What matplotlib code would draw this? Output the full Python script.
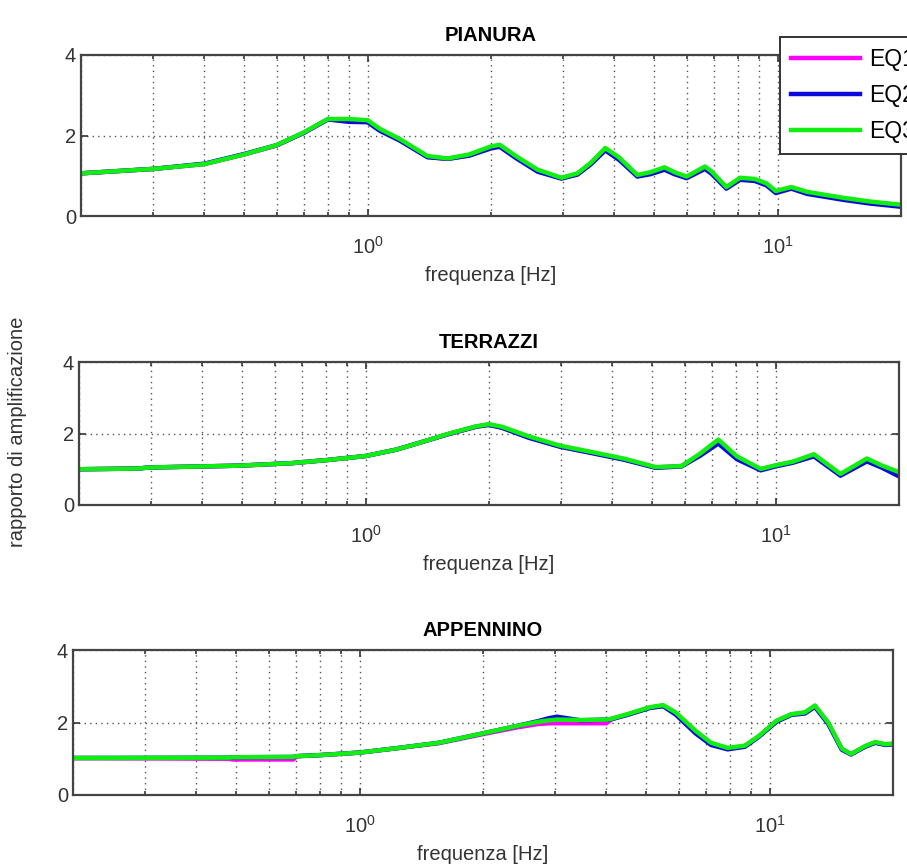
import numpy as np
import matplotlib
matplotlib.use('Agg')
import matplotlib.pyplot as plt
import matplotlib.ticker as tick

plt.rcParams['font.family'] = ['Liberation Sans', 'DejaVu Sans']
plt.rcParams['mathtext.fontset'] = 'custom'
plt.rcParams['mathtext.rm'] = 'Liberation Sans'

# PIANURA
f_pia = [0.2, 0.3, 0.4, 0.5, 0.6, 0.7, 0.8, 0.9, 1.0, 1.07, 1.2, 1.4, 1.57, 1.77, 2.0, 2.1,
         2.3, 2.6, 2.97, 3.25, 3.5, 3.8, 4.1, 4.55, 4.9, 5.3, 5.6, 6.0, 6.65, 6.9, 7.5, 8.1,
         8.8, 9.4, 9.9, 10.8, 11.8, 14.5, 16.8, 20]
pia_g = [1.06, 1.17, 1.29, 1.53, 1.76, 2.08, 2.41, 2.41, 2.38, 2.17, 1.91, 1.49, 1.43, 1.53, 1.73, 1.77,
         1.49, 1.15, 0.95, 1.06, 1.32, 1.69, 1.46, 1.02, 1.09, 1.21, 1.09, 0.98, 1.23, 1.11, 0.72, 0.95,
         0.92, 0.81, 0.62, 0.72, 0.60, 0.45, 0.36, 0.28]
pia_b = [1.06, 1.17, 1.30, 1.54, 1.76, 2.07, 2.40, 2.34, 2.33, 2.12, 1.87, 1.46, 1.42, 1.50, 1.68, 1.72,
         1.44, 1.10, 0.93, 1.03, 1.28, 1.63, 1.40, 0.98, 1.04, 1.15, 1.04, 0.94, 1.17, 1.05, 0.68, 0.90,
         0.87, 0.76, 0.57, 0.68, 0.55, 0.40, 0.31, 0.23]
pia_m = [1.06, 1.17, 1.29, 1.53, 1.75, 2.07, 2.40, 2.36, 2.35, 2.14, 1.89, 1.47, 1.42, 1.51, 1.70, 1.74,
         1.46, 1.12, 0.94, 1.04, 1.30, 1.66, 1.43, 1.00, 1.06, 1.18, 1.06, 0.96, 1.20, 1.08, 0.70, 0.92,
         0.89, 0.78, 0.59, 0.70, 0.57, 0.42, 0.33, 0.25]

# TERRAZZI
f_ter = [0.2, 0.28, 0.29, 0.3, 0.49, 0.66, 0.81, 1.0, 1.19, 1.38, 1.6, 1.86, 2.0, 2.15, 2.5, 2.98,
         3.57, 4.26, 5.1, 5.9, 6.55, 7.25, 8.05, 9.2, 10, 11, 12.4, 14.4, 16.7, 18.2, 20]
ter_g = [1.00, 1.02, 1.04, 1.05, 1.10, 1.17, 1.26, 1.37, 1.55, 1.77, 2.00, 2.20, 2.26, 2.19, 1.92, 1.66,
         1.48, 1.30, 1.06, 1.09, 1.44, 1.83, 1.36, 1.01, 1.11, 1.21, 1.42, 0.87, 1.30, 1.10, 0.92]
ter_b = [1.00, 1.02, 1.04, 1.05, 1.10, 1.17, 1.26, 1.37, 1.55, 1.77, 1.99, 2.19, 2.24, 2.16, 1.88, 1.63,
         1.45, 1.27, 1.04, 1.08, 1.38, 1.72, 1.28, 0.97, 1.08, 1.18, 1.36, 0.82, 1.22, 1.04, 0.80]
ter_m = [1.00, 1.02, 1.04, 1.05, 1.10, 1.17, 1.26, 1.37, 1.55, 1.77, 1.99, 2.19, 2.25, 2.17, 1.90, 1.64,
         1.46, 1.28, 1.05, 1.09, 1.41, 1.76, 1.31, 0.99, 1.10, 1.20, 1.38, 0.84, 1.25, 1.07, 0.84]

# APPENNINO
f_app = [0.2, 0.48, 0.49, 0.69, 0.70, 0.8, 1.0, 1.23, 1.56, 2.0, 2.43, 2.73, 2.9, 3.03, 3.46, 4.0,
         4.1, 4.5, 5.1, 5.5, 5.9, 6.6, 7.2, 7.9, 8.7, 9.4, 10.4, 11.3, 12.2, 12.9, 13.9, 15.0,
         15.8, 17.1, 18.1, 19.2, 20]
app_g = [1.02, 1.03, 1.04, 1.05, 1.07, 1.10, 1.17, 1.29, 1.44, 1.70, 1.91, 2.02, 2.06, 2.08, 2.07, 2.08,
         2.10, 2.23, 2.42, 2.48, 2.28, 1.77, 1.44, 1.30, 1.36, 1.62, 2.05, 2.23, 2.28, 2.47, 2.00, 1.28,
         1.13, 1.35, 1.46, 1.40, 1.42]
app_b = [1.02, 1.03, 1.04, 1.05, 1.07, 1.10, 1.17, 1.29, 1.44, 1.70, 1.91, 2.04, 2.12, 2.16, 2.06, 2.08,
         2.09, 2.21, 2.40, 2.45, 2.22, 1.70, 1.38, 1.26, 1.33, 1.60, 2.02, 2.21, 2.25, 2.43, 1.96, 1.25,
         1.12, 1.33, 1.44, 1.38, 1.40]
app_m = [1.02, 1.00, 0.98, 0.98, 1.07, 1.10, 1.17, 1.29, 1.43, 1.68, 1.87, 1.96, 1.98, 1.98, 1.98, 1.98,
         2.08, 2.22, 2.41, 2.46, 2.25, 1.74, 1.41, 1.28, 1.35, 1.61, 2.04, 2.22, 2.27, 2.45, 1.98, 1.27,
         1.12, 1.34, 1.45, 1.39, 1.41]

labels = ['EQ1', 'EQ2', 'EQ3']
colors = ['#ff00ff', '#0a0adc', '#11ee11']

panels = [
    ('PIANURA', f_pia, [pia_m, pia_b, pia_g], [81, 55, 820, 161]),
    ('TERRAZZI', f_ter, [ter_m, ter_b, ter_g], [79, 362, 820, 143]),
    ('APPENNINO', f_app, [app_m, app_b, app_g], [73, 650, 820, 145]),
]

W, H = 907, 868
fig = plt.figure(figsize=(W/100, H/100), dpi=100)

fs = 14.5
axes = []
for title, f, series, (px, py, pw, ph) in panels:
    ax = fig.add_axes([px/W, 1-(py+ph)/H, pw/W, ph/H])
    for y, c, lab in zip(series, colors, labels):
        ax.plot(f, y, color=c, lw=3.2, label=lab, solid_joinstyle='round')
    ax.set_xscale('log')
    ax.set_xlim(0.2, 20)
    ax.set_ylim(0, 4)
    ax.set_yticks([0, 2, 4])
    ax.xaxis.set_major_locator(tick.FixedLocator([1, 10]))
    ax.xaxis.set_minor_locator(tick.FixedLocator([0.2, 0.3, 0.4, 0.5, 0.6, 0.7, 0.8, 0.9,
                                                  2, 3, 4, 5, 6, 7, 8, 9, 20]))
    ax.xaxis.set_minor_formatter(tick.NullFormatter())
    ax.grid(which='both', axis='x', color='#555555', ls=(0, (1, 3)), lw=1.0)
    ax.grid(which='major', axis='y', color='#555555', ls=(0, (1, 3)), lw=1.0)
    ax.tick_params(which='both', direction='in', top=True, right=True, labelsize=fs,
                   colors='#333333', width=1.2)
    ax.tick_params(which='major', length=5)
    ax.tick_params(which='minor', length=3)
    ax.tick_params(axis='x', which='major', pad=14)
    for s in ax.spines.values():
        s.set_color('#444444')
        s.set_linewidth(1.6)
    ax.set_xlabel('frequenza [Hz]', fontsize=fs, color='#333333', labelpad=6)
    ax.set_title(title, fontsize=fs, fontweight='bold', pad=10)
    axes.append(ax)

fig.text(18/W, 1-432/H, 'rapporto di amplificazione', rotation=90, fontsize=fs,
         color='#333333', ha='center', va='center')

leg = axes[0].legend(loc='upper left', bbox_to_anchor=(780/W, 1-37/H),
                     bbox_transform=fig.transFigure, borderaxespad=0, fontsize=fs+2,
                     handlelength=3.0, fancybox=False, framealpha=1, edgecolor='#333333',
                     borderpad=0.5, labelspacing=0.55, handletextpad=0.4)
leg.get_frame().set_linewidth(1.4)

fig.savefig('out.png', dpi=100)
